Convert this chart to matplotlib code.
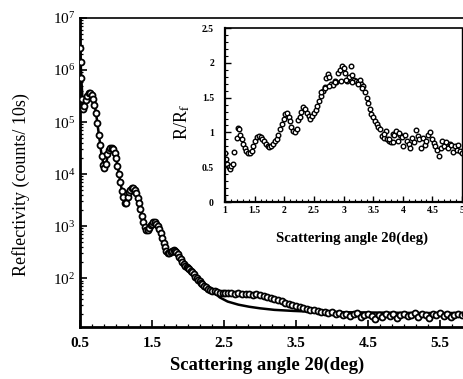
import matplotlib
matplotlib.use('Agg')
import matplotlib.pyplot as plt
from matplotlib.ticker import AutoMinorLocator, LogLocator, NullFormatter

plt.rcParams['font.family'] = ['Liberation Serif', 'DejaVu Serif']
plt.rcParams['mathtext.fontset'] = 'stix'

# gemessene Reflektivität (log10 der Zählrate pro 10 s)
angle = [0.50, 0.51, 0.52, 0.53, 0.545, 0.56, 0.58, 0.60, 0.62, 0.64, 0.66, 0.68, 0.70, 0.72, 0.74,
         0.76, 0.78, 0.80, 0.82, 0.84, 0.86, 0.88, 0.90, 0.92, 0.94, 0.96, 0.98, 1.00, 1.02, 1.04,
         1.06, 1.08, 1.10, 1.12, 1.14, 1.16, 1.18, 1.20, 1.22, 1.24, 1.26, 1.28, 1.30, 1.32, 1.34,
         1.36, 1.38, 1.40, 1.42, 1.44, 1.46, 1.48, 1.50, 1.52, 1.54, 1.56, 1.58, 1.60, 1.62, 1.64,
         1.66, 1.68, 1.70, 1.72, 1.74, 1.76, 1.78, 1.80, 1.82, 1.84, 1.86, 1.88, 1.90, 1.92, 1.94,
         1.96, 1.98, 2.00, 2.02, 2.04, 2.06, 2.08, 2.10, 2.12, 2.14, 2.16, 2.18, 2.20, 2.22, 2.25,
         2.28, 2.31, 2.34, 2.37, 2.40, 2.44, 2.48, 2.52, 2.55, 2.60, 2.65, 2.70, 2.75, 2.80, 2.85,
         2.90, 2.95, 3.00, 3.05, 3.10, 3.15, 3.20, 3.25, 3.30, 3.35, 3.40, 3.45, 3.50, 3.55, 3.60,
         3.65, 3.70, 3.75, 3.80, 3.85, 3.90, 3.95, 4.00, 4.05, 4.10, 4.15, 4.20, 4.25, 4.30, 4.35,
         4.40, 4.45, 4.50, 4.55, 4.60, 4.65, 4.70, 4.75, 4.80, 4.85, 4.90, 4.95, 5.00, 5.05, 5.10,
         5.15, 5.20, 5.25, 5.30, 5.35, 5.40, 5.45, 5.50, 5.55, 5.60, 5.65, 5.70, 5.75, 5.80, 5.85]
refl_log = [6.42, 6.15, 5.85, 5.45, 5.25, 5.30, 5.42, 5.50, 5.55, 5.56, 5.52, 5.45, 5.33, 5.17, 4.98,
            4.76, 4.55, 4.35, 4.18, 4.12, 4.20, 4.38, 4.46, 4.50, 4.51, 4.48, 4.40, 4.30, 4.16, 4.00,
            3.84, 3.68, 3.55, 3.45, 3.45, 3.56, 3.65, 3.70, 3.73, 3.73, 3.70, 3.63, 3.54, 3.44, 3.33,
            3.20, 3.08, 2.98, 2.93, 2.92, 2.96, 3.02, 3.05, 3.07, 3.07, 3.05, 3.00, 2.94, 2.86, 2.77,
            2.68, 2.59, 2.53, 2.49, 2.48, 2.50, 2.53, 2.54, 2.53, 2.50, 2.46, 2.41, 2.36, 2.31, 2.27,
            2.24, 2.22, 2.20, 2.17, 2.14, 2.11, 2.07, 2.03, 2.00, 1.97, 1.94, 1.91, 1.88, 1.85, 1.82,
            1.79, 1.77, 1.76, 1.75, 1.74, 1.72, 1.71, 1.72, 1.71, 1.72, 1.70, 1.71, 1.70, 1.69, 1.70,
            1.68, 1.69, 1.67, 1.66, 1.64, 1.62, 1.60, 1.58, 1.56, 1.53, 1.50, 1.48, 1.46, 1.44, 1.42,
            1.40, 1.39, 1.38, 1.37, 1.35, 1.35, 1.33, 1.34, 1.31, 1.33, 1.30, 1.32, 1.28, 1.31, 1.33,
            1.25, 1.30, 1.32, 1.27, 1.22, 1.30, 1.26, 1.32, 1.28, 1.31, 1.24, 1.29, 1.32, 1.27, 1.30,
            1.33, 1.26, 1.31, 1.29, 1.23, 1.31, 1.30, 1.33, 1.27, 1.31, 1.25, 1.30, 1.32, 1.29, 1.31]

# angepasste Kurve
fit_angle = [0.50, 0.52, 0.54, 0.57, 0.60, 0.64, 0.68, 0.72, 0.76, 0.80, 0.84, 0.87, 0.90, 0.94,
             0.98, 1.02, 1.06, 1.10, 1.13, 1.16, 1.20, 1.24, 1.28, 1.32, 1.36, 1.40, 1.44, 1.48,
             1.52, 1.56, 1.60, 1.64, 1.68, 1.72, 1.76, 1.80, 1.84, 1.88, 1.92, 1.96, 2.00, 2.05,
             2.10, 2.15, 2.20, 2.25, 2.30, 2.35, 2.44, 2.55, 2.70, 2.85, 3.00, 3.20, 3.46, 3.80,
             4.50, 5.20, 5.95]
fit_log = [6.40, 5.80, 5.30, 5.40, 5.50, 5.57, 5.47, 5.20, 4.78, 4.36, 4.10, 4.25, 4.45, 4.53,
           4.42, 4.18, 3.85, 3.55, 3.44, 3.52, 3.70, 3.75, 3.65, 3.45, 3.21, 2.98, 2.91, 3.00,
           3.07, 3.07, 2.95, 2.78, 2.60, 2.49, 2.48, 2.54, 2.55, 2.43, 2.32, 2.25, 2.21, 2.13,
           2.04, 1.96, 1.89, 1.83, 1.79, 1.74, 1.63, 1.55, 1.49, 1.45, 1.42, 1.39, 1.37, 1.35,
           1.34, 1.33, 1.33]

# Einsatz: R/R_f
ins_angle = [1.00, 1.02, 1.04, 1.06, 1.08, 1.10, 1.13, 1.16, 1.20, 1.22, 1.24, 1.26, 1.28, 1.30,
             1.33, 1.36, 1.39, 1.42, 1.45, 1.48, 1.51, 1.54, 1.57, 1.60, 1.63, 1.66, 1.69, 1.72,
             1.75, 1.78, 1.81, 1.84, 1.87, 1.90, 1.93, 1.96, 1.99, 2.02, 2.05, 2.08, 2.10, 2.12,
             2.15, 2.18, 2.21, 2.24, 2.26, 2.29, 2.32, 2.35, 2.38, 2.41, 2.44, 2.47, 2.50, 2.53,
             2.56, 2.59, 2.62, 2.65, 2.68, 2.70, 2.73, 2.76, 2.79, 2.82, 2.85, 2.88, 2.91, 2.94,
             2.97, 3.00, 3.03, 3.06, 3.09, 3.12, 3.15, 3.18, 3.21, 3.24, 3.27, 3.30, 3.33, 3.36,
             3.39, 3.42, 3.45, 3.47, 3.50, 3.53, 3.56, 3.59, 3.62, 3.65, 3.68, 3.71, 3.74, 3.77,
             3.80, 3.83, 3.86, 3.89, 3.92, 3.95, 3.98, 4.01, 4.04, 4.07, 4.10, 4.13, 4.16, 4.19,
             4.22, 4.25, 4.28, 4.31, 4.34, 4.37, 4.40, 4.43, 4.46, 4.49, 4.52, 4.55, 4.58, 4.61,
             4.64, 4.67, 4.70, 4.73, 4.76, 4.79, 4.82, 4.85, 4.88, 4.91, 4.94, 4.97, 5.00,
             2.62, 2.68, 2.75, 2.85, 2.95, 3.05, 3.15, 3.25, 3.32, 3.68, 3.76, 3.84, 3.94]
ins_ratio = [0.70, 0.62, 0.55, 0.50, 0.47, 0.52, 0.55, 0.72, 0.92, 1.06, 1.05, 0.97, 0.90, 0.84,
             0.78, 0.73, 0.71, 0.71, 0.74, 0.80, 0.87, 0.93, 0.95, 0.94, 0.91, 0.87, 0.84, 0.81,
             0.79, 0.81, 0.84, 0.87, 0.91, 0.97, 1.05, 1.12, 1.20, 1.26, 1.28, 1.22, 1.16, 1.08,
             1.02, 1.00, 1.05, 1.18, 1.22, 1.30, 1.36, 1.33, 1.28, 1.24, 1.20, 1.24, 1.28, 1.32,
             1.38, 1.45, 1.52, 1.60, 1.65, 1.78, 1.84, 1.80, 1.70, 1.68, 1.74, 1.72, 1.85, 1.90,
             1.95, 1.92, 1.86, 1.74, 1.80, 1.96, 1.82, 1.76, 1.74, 1.72, 1.76, 1.70, 1.66, 1.58,
             1.50, 1.42, 1.34, 1.26, 1.22, 1.16, 1.12, 1.08, 1.05, 0.95, 0.92, 1.02, 0.90, 0.88,
             0.86, 0.98, 0.96, 1.02, 0.88, 0.97, 0.93, 0.80, 0.96, 0.88, 0.84, 0.78, 0.92, 0.86,
             1.04, 0.95, 0.90, 0.78, 0.92, 0.82, 0.88, 0.97, 1.00, 0.90, 0.85, 0.80, 0.75, 0.66,
             0.78, 0.88, 0.80, 0.86, 0.78, 0.84, 0.82, 0.72, 0.80, 0.75, 0.82, 0.74, 0.70,
             1.58, 1.64, 1.66, 1.72, 1.74, 1.75, 1.73, 1.70, 1.64, 0.98, 0.90, 0.86, 0.99]

refl = [10 ** v for v in refl_log]
fit = [10 ** v for v in fit_log]

fig = plt.figure(figsize=(4.63, 3.79), dpi=100)
ax = fig.add_axes([0.1728, 0.1372, 0.8466, 0.8153])

ax.plot(fit_angle, fit, color='black', lw=1.8, zorder=2)
ax.plot(angle, refl, 'o', ms=4.3, mfc='white', mec='black', mew=1.3, zorder=3)

ax.set_yscale('log')
ax.set_xlim(0.5, 5.944)
ax.set_ylim(11.5, 1e7)
ax.set_xticks([0.5, 1.5, 2.5, 3.5, 4.5, 5.5])
ax.set_xticklabels(['0.5', '1.5', '2.5', '3.5', '4.5', '5.5'], fontweight='bold')
ax.xaxis.set_minor_locator(AutoMinorLocator(6))
ax.yaxis.set_major_locator(LogLocator(base=10))
ax.yaxis.set_minor_locator(LogLocator(base=10, subs=[2, 3, 4, 5, 6, 7, 8, 9]))
ax.yaxis.set_minor_formatter(NullFormatter())
ax.tick_params(which='major', direction='in', length=5, width=1.2, labelsize=11)
ax.tick_params(which='minor', direction='in', length=2.5, width=0.9)
ax.tick_params(axis='x', pad=7)
for s in ['left', 'bottom']:
    ax.spines[s].set_linewidth(2)
ax.spines['top'].set_linewidth(1.2)
ax.set_xlabel('Scattering angle 2θ(deg)', fontsize=13.5, fontweight='bold')
ax.xaxis.set_label_coords(0.477, -0.095)
ax.set_ylabel('Reflectivity (counts/ 10s)', fontsize=13)
ax.yaxis.set_label_coords(-0.128, 0.46)

# Einsatzgrafik
ins = fig.add_axes([0.486, 0.467, 0.5119, 0.459])
ins.plot(ins_angle, ins_ratio, 'o', ms=3.3, mfc='white', mec='black', mew=1.0)
ins.set_xlim(1, 5)
ins.set_ylim(0, 2.5)
ins.set_xticks([1, 1.5, 2, 2.5, 3, 3.5, 4, 4.5, 5])
ins.set_xticklabels(['1', '1.5', '2', '2.5', '3', '3.5', '4', '4.5', '5'], fontweight='bold')
ins.set_yticks([0, 0.5, 1, 1.5, 2, 2.5])
ins.set_yticklabels(['0', '0.5', '1', '1.5', '2', '2.5'], fontweight='bold')
ins.xaxis.set_minor_locator(AutoMinorLocator(5))
ins.yaxis.set_minor_locator(AutoMinorLocator(5))
ins.tick_params(which='major', direction='in', length=4, width=1.0, labelsize=7)
ins.tick_params(which='minor', direction='in', length=2, width=0.8)
ins.tick_params(axis='y', pad=8)
ins.tick_params(axis='x', pad=3)
for s in ['left', 'bottom']:
    ins.spines[s].set_linewidth(1.6)
ins.spines['top'].set_linewidth(1.2)
ins.spines['right'].set_linewidth(1.0)
ins.set_xlabel('Scattering angle 2θ(deg)', fontsize=10.5, fontweight='bold')
ins.xaxis.set_label_coords(0.536, -0.172)
ins.set_ylabel('R/R$_\\mathrm{f}$', fontsize=13)
ins.yaxis.set_label_coords(-0.139, 0.46)

fig.savefig('out.png', dpi=100)
